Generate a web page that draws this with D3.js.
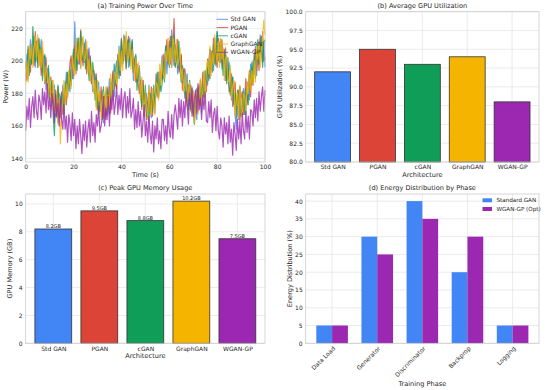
<!DOCTYPE html>
<html>
<head>
<meta charset="utf-8">
<script src="https://cdn.jsdelivr.net/npm/d3@7"></script>
<style>
  body { margin: 0; background: #fff; }
  svg { font-family: "DejaVu Sans", sans-serif; }
</style>
</head>
<body>
<div id="chart"></div>
<script>
// architectures and their colours
var archNames = ["Std GAN", "PGAN", "cGAN", "GraphGAN", "WGAN-GP"];
var archColors = ["#4285F4", "#DB4437", "#0F9D58", "#F4B400", "#9C27B0"];

// (a) power samples, one every 0.5 s from 0 to 100 s
var powerStd = [188,204,189,203,213,198,208,215,196,211,213,197,205,213,193,196,204,182,195,195,180,172,185,174,185,166,175,162,180,178,169,185,173,181,193,178,191,181,
201,192,189,224,200,214,198,208,196,214,210,199,213,197,201,208,188,195,181,182,192,172,182,187,169,176,182,162,177,181,167,177,189,173,181,194,178,195,
200,192,209,191,205,198,216,205,199,212,196,214,201,208,188,202,203,187,188,197,177,184,188,166,176,180,165,185,169,165,180,178,168,187,180,193,182,194,
203,189,201,209,192,205,212,198,219,203,197,210,206,192,207,195,203,186,194,194,180,192,170,179,169,184,172,165,178,164,184,173,184,168,187,193,183,188,
185,200,207,194,206,194,214,204,218,200,202,211,195,207,199,188,202,189,199,192,176,190,176,167,158,172,164,184,169,167,183,175,167,187,185,176,198,185,
200,192,209,191,205,198,216,205,199,212,196];
var powerPgan = [198,188,207,197,193,210,204,197,218,203,199,213,203,191,207,200,186,202,185,179,188,190,173,180,165,182,171,184,166,170,181,167,183,179,173,192,185,199,
203,189,201,209,192,205,212,198,219,203,197,210,206,192,207,195,203,186,194,194,180,192,170,179,169,184,172,165,178,164,184,173,184,168,187,193,183,188,
183,203,195,191,214,203,200,214,195,211,215,200,202,212,193,201,187,198,186,180,188,170,188,175,181,164,174,181,168,184,166,179,172,192,179,177,193,192,
188,204,189,203,213,198,208,215,196,211,226,197,205,213,193,196,204,182,195,195,180,172,185,174,185,166,175,162,180,178,169,185,173,181,193,178,191,181,
201,192,189,206,200,214,198,208,196,214,210,199,213,197,201,208,188,195,181,182,192,172,182,187,169,176,182,162,177,181,167,177,189,173,181,194,178,195,
185,200,207,194,206,194,214,204,218,200,202];
var powerCgan = [200,192,209,191,205,198,221,205,199,212,196,214,201,208,188,202,203,187,188,197,177,184,188,166,154,180,165,185,169,165,180,178,168,187,180,193,182,194,
185,200,207,194,206,194,214,204,218,200,202,211,195,207,199,188,202,189,199,192,176,190,176,167,181,172,164,184,169,167,183,175,167,187,185,176,198,185,
188,204,189,203,213,198,208,215,196,211,213,197,205,213,193,196,204,182,195,195,180,172,185,174,185,166,175,162,180,178,169,185,173,181,193,178,191,181,
186,200,187,209,201,210,196,207,215,202,216,196,207,196,212,194,187,197,192,177,191,178,170,188,174,168,181,161,177,183,170,174,188,173,186,177,194,186,
198,188,207,197,193,210,204,197,218,203,199,213,203,191,207,200,186,202,185,179,188,190,173,180,165,182,171,184,166,170,181,167,183,179,173,192,185,199,
188,204,189,203,213,198,208,215,196,211,213];
var powerGraph = [186,200,187,209,201,210,196,207,215,202,216,196,207,196,212,194,187,197,192,177,191,178,170,188,174,168,181,161,177,149,170,174,188,173,186,177,194,186,
183,203,195,191,214,203,200,214,195,211,215,200,202,212,193,201,187,198,186,180,188,170,188,175,181,164,174,181,168,184,166,179,172,192,179,177,193,192,
185,200,207,194,206,194,214,204,218,200,202,211,195,207,199,188,202,189,199,192,176,190,176,167,181,172,164,184,169,167,183,175,167,187,185,176,198,185,
201,192,189,206,200,214,198,208,196,214,210,199,213,197,201,208,188,195,181,182,192,172,182,187,169,176,182,162,177,181,167,177,189,173,181,194,178,195,
200,192,209,191,205,198,216,205,199,212,196,214,201,208,188,202,203,187,188,197,177,184,188,166,176,180,165,185,169,165,180,178,168,187,180,193,182,194,
186,200,187,209,201,210,196,207,215,225,216];
var powerWgan = [157,172,164,177,159,172,178,165,182,169,164,179,175,164,183,173,181,168,186,170,177,165,180,172,162,179,166,174,160,177,164,158,173,158,166,150,167,161,151,168,154,164,146,160,149,164,154,143,161,151,163,147,158,164,150,169,154,162,150,167,160,172,156,
160,165,178,160,171,164,178,160,177,170,182,167,174,185,167,179,170,183,165,177,181,165,178,168,183,165,169,177,158,170,159,175,160,169,153,162,173,154,163,150,166,155,149,163,144,160,152,165,149,157,146,164,164,151,160,149,169,157,153,167,152,167,173,
166,158,177,165,176,160,175,165,181,172,161,180,170,183,166,177,182,168,186,170,177,164,179,170,181,163,162,175,165,176,156,167,171,157,172,157,152,165,160,147,165,155,162,149,166,150,158,142,162,155,145,164,152,162,149,168,157,152,169,156,166,152,170,
169,160,176,165,177,163,181,169,178,184,169,182];
var powerSeries = [powerStd, powerPgan, powerCgan, powerGraph, powerWgan];
var timeTicks = [0, 20, 40, 60, 80, 100];
var powerTicks = [140, 160, 180, 200, 220];

// (b) average GPU utilisation (%)
var gpuUtil = [92, 95, 93, 94, 88];
var utilTicks = [80, 82.5, 85, 87.5, 90, 92.5, 95, 97.5, 100];

// (c) peak GPU memory (GB)
var peakMem = [8.2, 9.5, 8.8, 10.2, 7.5];
var memTicks = [0, 2, 4, 6, 8, 10];

// (d) energy share per training phase (%)
var phases = ["Data Load", "Generator", "Discriminator", "Backprop", "Logging"];
var energyStd = [5, 30, 40, 20, 5];
var energyWgan = [5, 25, 35, 30, 5];
var energyNames = ["Standard GAN", "WGAN-GP (Opt)"];
var energyColors = ["#4285F4", "#9C27B0"];
var energyTicks = [0, 5, 10, 15, 20, 25, 30, 35, 40];

var svgWidth = 550;
var svgHeight = 390;
var textColor = "#262626";
var gridColor = "#e2e2e2";
var spineColor = "#cccccc";

var svg = d3.select("#chart")
  .append("svg")
  .attr("width", svgWidth)
  .attr("height", svgHeight);

// axes boxes in pixels
var boxA = {left: 25.7, right: 265, top: 11.7, bottom: 162};
var boxB = {left: 305.7, right: 539, top: 11.7, bottom: 162};
var boxC = {left: 25.7, right: 265, top: 194, bottom: 343.3};
var boxD = {left: 305.7, right: 539, top: 194, bottom: 343.3};

function makePanel(box) {
  var g = svg.append("g")
    .attr("transform", `translate(${box.left}, ${box.top})`);
  g.w = box.right - box.left;
  g.h = box.bottom - box.top;
  return g;
}

function drawGrid(g, x, y, xTicks, yTicks) {
  var grid = g.append("g");
  grid.selectAll(".gx").data(xTicks).enter().append("line")
    .attr("x1", d => x(d)).attr("x2", d => x(d))
    .attr("y1", 0).attr("y2", g.h)
    .attr("stroke", gridColor).attr("stroke-width", 0.7);
  grid.selectAll(".gy").data(yTicks).enter().append("line")
    .attr("x1", 0).attr("x2", g.w)
    .attr("y1", d => y(d)).attr("y2", d => y(d))
    .attr("stroke", gridColor).attr("stroke-width", 0.7);
}

function styleAxis(ax) {
  ax.select(".domain").remove();
  ax.attr("font-family", null).attr("font-size", null);
  ax.selectAll("text").attr("font-size", 6).attr("fill", textColor);
}

function drawYAxis(g, y, ticks, fmt) {
  var ax = g.append("g")
    .call(d3.axisLeft(y).tickValues(ticks).tickSize(0).tickPadding(3).tickFormat(fmt));
  styleAxis(ax);
}

function drawXAxis(g, x, ticks, fmt) {
  var ax = g.append("g")
    .attr("transform", `translate(0, ${g.h})`)
    .call(d3.axisBottom(x).tickValues(ticks).tickSize(0).tickPadding(3).tickFormat(fmt));
  styleAxis(ax);
}

function drawSpines(g) {
  g.append("rect")
    .attr("width", g.w).attr("height", g.h)
    .attr("fill", "none")
    .attr("stroke", spineColor)
    .attr("stroke-width", 0.8);
}

function drawLabels(g, title, xLabel, yLabel, yOffset) {
  g.append("text")
    .attr("x", g.w / 2).attr("y", -3.7)
    .attr("text-anchor", "middle")
    .attr("font-size", 6.6).attr("fill", textColor)
    .text(title);
  if (xLabel) {
    g.append("text")
      .attr("x", g.w / 2).attr("y", g.h + 14.8)
      .attr("text-anchor", "middle")
      .attr("font-size", 6.6).attr("fill", textColor)
      .text(xLabel);
  }
  g.append("text")
    .attr("transform", `translate(${-yOffset}, ${g.h / 2}) rotate(-90)`)
    .attr("text-anchor", "middle")
    .attr("font-size", 6.6).attr("fill", textColor)
    .text(yLabel);
}

// ---------- (a) Training power over time ----------
var pa = makePanel(boxA);
var timeSec = d3.range(powerStd.length).map(i => i * 0.5);
var allPower = d3.merge(powerSeries);
var pMin = d3.min(allPower), pMax = d3.max(allPower);
var pPad = (pMax - pMin) * 0.05;
var xTime = d3.scaleLinear().domain([0, 100]).range([0, pa.w]);
var yPower = d3.scaleLinear().domain([pMin - pPad, pMax + pPad]).range([pa.h, 0]);

drawGrid(pa, xTime, yPower, timeTicks, powerTicks);
drawYAxis(pa, yPower, powerTicks, d3.format("d"));
drawXAxis(pa, xTime, timeTicks, d3.format("d"));

var powerLine = d3.line()
  .x((d, i) => xTime(timeSec[i]))
  .y(d => yPower(d));

pa.append("g").selectAll("path")
  .data(powerSeries)
  .enter()
  .append("path")
  .attr("d", powerLine)
  .attr("fill", "none")
  .attr("stroke", (d, i) => archColors[i])
  .attr("stroke-width", 1.2)
  .attr("stroke-opacity", 0.8)
  .attr("stroke-linejoin", "round");

drawSpines(pa);
drawLabels(pa, "(a) Training Power Over Time", "Time (s)", "Power (W)", 17.7);

// legend (no frame, seaborn style)
var legA = pa.append("g").attr("transform", `translate(${216.5 - boxA.left}, ${19.3 - boxA.top})`);
archNames.forEach(function(name, i) {
  var row = legA.append("g").attr("transform", `translate(0, ${i * 8.25})`);
  row.append("line")
    .attr("x1", 0).attr("x2", 11.5)
    .attr("stroke", archColors[i]).attr("stroke-width", 1).attr("stroke-opacity", 0.8);
  row.append("text")
    .attr("x", 14).attr("dy", "0.35em")
    .attr("font-size", 6).attr("fill", textColor)
    .text(name);
});

// ---------- (b) Average GPU utilisation ----------
var pb = makePanel(boxB);
var xArchB = d3.scaleLinear().domain([-0.6, 4.6]).range([0, pb.w]);
var yUtil = d3.scaleLinear().domain([80, 100]).range([pb.h, 0]);
var archIdx = d3.range(archNames.length);

drawGrid(pb, xArchB, yUtil, archIdx, utilTicks);
drawYAxis(pb, yUtil, utilTicks, d3.format(".1f"));
drawXAxis(pb, xArchB, archIdx, i => archNames[i]);

pb.append("g").selectAll("rect")
  .data(gpuUtil)
  .enter()
  .append("rect")
  .attr("x", (d, i) => xArchB(i - 0.4))
  .attr("width", xArchB(0.4) - xArchB(-0.4))
  .attr("y", d => yUtil(d))
  .attr("height", d => yUtil(80) - yUtil(d))
  .attr("fill", (d, i) => archColors[i])
  .attr("stroke", "#333")
  .attr("stroke-width", 0.8);

drawSpines(pb);
drawLabels(pb, "(b) Average GPU Utilization", "Architecture", "GPU Utilization (%)", 23.4);

// ---------- (c) Peak GPU memory ----------
var pc = makePanel(boxC);
var xArchC = d3.scaleLinear().domain([-0.6, 4.6]).range([0, pc.w]);
var yMem = d3.scaleLinear().domain([0, d3.max(peakMem) * 1.05]).range([pc.h, 0]);

drawGrid(pc, xArchC, yMem, archIdx, memTicks);
drawYAxis(pc, yMem, memTicks, d3.format("d"));
drawXAxis(pc, xArchC, archIdx, i => archNames[i]);

pc.append("g").selectAll("rect")
  .data(peakMem)
  .enter()
  .append("rect")
  .attr("x", (d, i) => xArchC(i - 0.4))
  .attr("width", xArchC(0.4) - xArchC(-0.4))
  .attr("y", d => yMem(d))
  .attr("height", d => yMem(0) - yMem(d))
  .attr("fill", (d, i) => archColors[i])
  .attr("stroke", "#333")
  .attr("stroke-width", 0.8);

pc.append("g").selectAll("text")
  .data(peakMem)
  .enter()
  .append("text")
  .attr("x", (d, i) => xArchC(i))
  .attr("y", d => yMem(d) - 1)
  .attr("text-anchor", "middle")
  .attr("font-size", 5).attr("fill", textColor)
  .text(d => d.toFixed(1) + "GB");

drawSpines(pc);
drawLabels(pc, "(c) Peak GPU Memory Usage", "Architecture", "GPU Memory (GB)", 13.4);

// ---------- (d) Energy distribution by phase ----------
var pd = makePanel(boxD);
var barW = 0.35;
var xPhase = d3.scaleLinear().domain([-0.585, 4.585]).range([0, pd.w]);
var yEnergy = d3.scaleLinear().domain([0, 42]).range([pd.h, 0]);
var phaseIdx = d3.range(phases.length);

drawGrid(pd, xPhase, yEnergy, phaseIdx, energyTicks);
drawYAxis(pd, yEnergy, energyTicks, d3.format("d"));

[energyStd, energyWgan].forEach(function(series, s) {
  pd.append("g").selectAll("rect")
    .data(series)
    .enter()
    .append("rect")
    .attr("x", (d, i) => xPhase(i - barW + s * barW))
    .attr("width", xPhase(barW) - xPhase(0))
    .attr("y", d => yEnergy(d))
    .attr("height", d => yEnergy(0) - yEnergy(d))
    .attr("fill", energyColors[s]);
});

pd.append("g").selectAll("text")
  .data(phases)
  .enter()
  .append("text")
  .attr("transform", (d, i) => `translate(${xPhase(i) + 1.5}, ${pd.h + 3.5}) rotate(-45)`)
  .attr("text-anchor", "end")
  .attr("dy", "0.5em")
  .attr("font-size", 6).attr("fill", textColor)
  .text(d => d);

drawSpines(pd);
pd.append("text")
  .attr("x", pd.w / 2).attr("y", 385.6 - boxD.top)
  .attr("text-anchor", "middle")
  .attr("font-size", 6.6).attr("fill", textColor)
  .text("Training Phase");
drawLabels(pd, "(d) Energy Distribution by Phase", null, "Energy Distribution (%)", 13.4);

var legD = pd.append("g").attr("transform", `translate(${482.5 - boxD.left}, ${200.3 - boxD.top})`);
energyNames.forEach(function(name, i) {
  var row = legD.append("g").attr("transform", `translate(0, ${i * 8.7})`);
  row.append("rect")
    .attr("x", 0).attr("y", -2).attr("width", 9.5).attr("height", 4)
    .attr("fill", energyColors[i]);
  row.append("text")
    .attr("x", 14).attr("dy", "0.35em")
    .attr("font-size", 5.6).attr("fill", textColor)
    .text(name);
});
</script>
</body>
</html>
